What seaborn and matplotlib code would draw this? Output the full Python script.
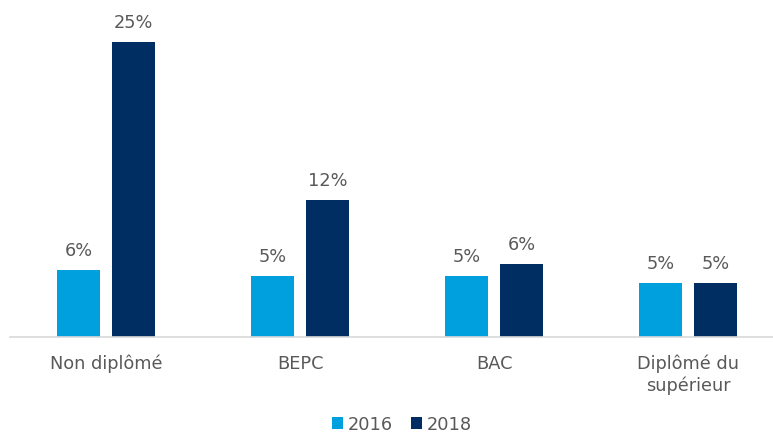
import pandas as pd
import seaborn as sns
import matplotlib.pyplot as plt

# data
categories = ['Non diplômé', 'BEPC', 'BAC', 'Diplômé du\nsupérieur']
years = ['2016', '2018']
values_2016 = [5.7, 5.2, 5.2, 4.6]
values_2018 = [25.0, 11.6, 6.2, 4.6]

df = pd.DataFrame({
    'categorie': categories * 2,
    'annee': [years[0]] * 4 + [years[1]] * 4,
    'valeur': values_2016 + values_2018,
})

sns.set_style('white')
plt.rcParams['font.family'] = ['DejaVu Sans']
text_color = '#595959'
fs = 12.8

fig = plt.figure(figsize=(7.73, 4.35), dpi=100)
ax = fig.add_axes([10 / 773, 1 - 338 / 435, 1 - 10 / 773, 338 / 435])

sns.barplot(data=df, x='categorie', y='valeur', hue='annee',
            palette=['#00A0DF', '#002E62'], width=0.567, gap=0.216,
            saturation=1, linewidth=0, ax=ax, legend=True)

for cont in ax.containers:
    ax.bar_label(cont, labels=[f'{v:.0f}%' for v in cont.datavalues],
                 padding=8, fontsize=fs, color=text_color)

ax.set_xlim(-0.495, 3.438)
ax.set_ylim(0, 28.65)
ax.set_xlabel('')
ax.set_ylabel('')
ax.set_yticks([])
ax.tick_params(axis='x', length=0, pad=12, labelsize=fs, labelcolor=text_color)
for s in ['top', 'right', 'left']:
    ax.spines[s].set_visible(False)
ax.spines['bottom'].set_color('#D9D9D9')
ax.spines['bottom'].set_linewidth(1.2)

handles, labels = ax.get_legend_handles_labels()
ax.get_legend().remove()
fig.legend(handles, labels, loc='lower center', bbox_to_anchor=(0.52, -0.035),
           ncol=2, frameon=False, fontsize=fs, labelcolor=text_color,
           handlelength=0.6, handleheight=0.6, handletextpad=0.3, columnspacing=1.0)

fig.savefig('out.png', dpi=100)
